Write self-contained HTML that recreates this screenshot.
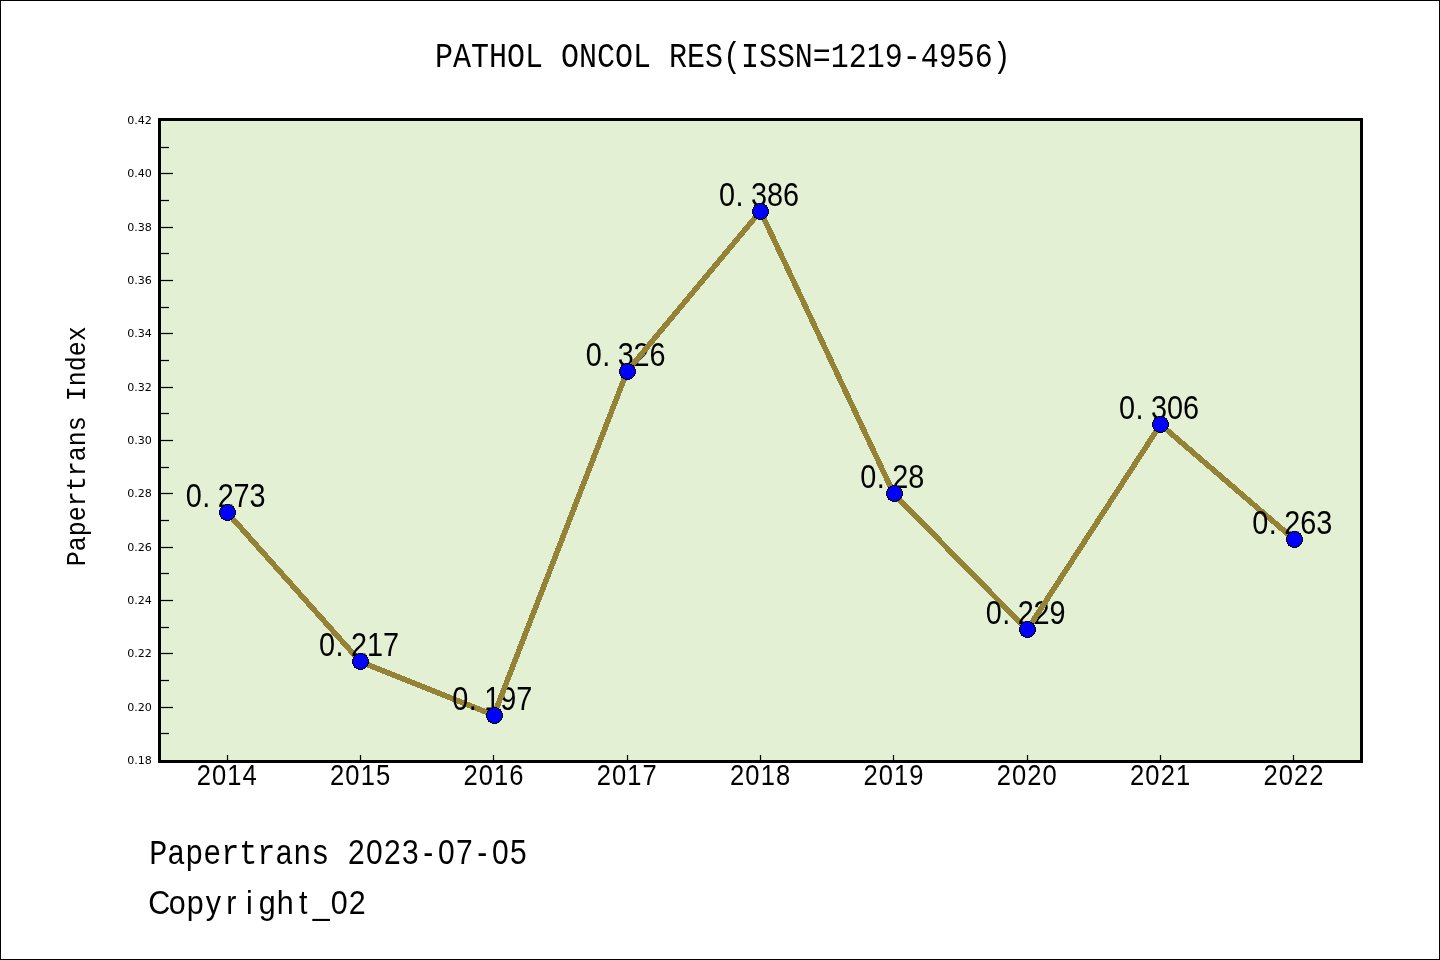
<!DOCTYPE html>
<html lang="en">
<head>
<meta charset="utf-8">
<title>PATHOL ONCOL RES (ISSN=1219-4956) - Papertrans Index</title>
<style>
html,body{margin:0;padding:0;background:#fff;width:1440px;height:960px;overflow:hidden}
svg{display:block;will-change:transform}
text{fill:#000;white-space:pre}
.m{font-family:"Liberation Mono","DejaVu Sans Mono",monospace}
.s{font-family:"Liberation Sans","DejaVu Sans",sans-serif}
.d{font-family:"DejaVu Sans","Liberation Sans",sans-serif}
</style>
</head>
<body>
<svg width="1440" height="960" viewBox="0 0 1440 960">
<rect x="0.5" y="0.5" width="1439" height="959" fill="#fff" stroke="#000" stroke-width="1"/>
<rect x="159.5" y="119.5" width="1202.0" height="642.0" fill="#e3f0d4"/>
<line x1="159.5" y1="707.5" x2="173" y2="707.5" stroke="#000" stroke-width="1.25"/>
<line x1="159.5" y1="653.5" x2="173" y2="653.5" stroke="#000" stroke-width="1.25"/>
<line x1="159.5" y1="600.5" x2="173" y2="600.5" stroke="#000" stroke-width="1.25"/>
<line x1="159.5" y1="547.5" x2="173" y2="547.5" stroke="#000" stroke-width="1.25"/>
<line x1="159.5" y1="493.5" x2="173" y2="493.5" stroke="#000" stroke-width="1.25"/>
<line x1="159.5" y1="440.5" x2="173" y2="440.5" stroke="#000" stroke-width="1.25"/>
<line x1="159.5" y1="387.5" x2="173" y2="387.5" stroke="#000" stroke-width="1.25"/>
<line x1="159.5" y1="333.5" x2="173" y2="333.5" stroke="#000" stroke-width="1.25"/>
<line x1="159.5" y1="280.5" x2="173" y2="280.5" stroke="#000" stroke-width="1.25"/>
<line x1="159.5" y1="227.5" x2="173" y2="227.5" stroke="#000" stroke-width="1.25"/>
<line x1="159.5" y1="173.5" x2="173" y2="173.5" stroke="#000" stroke-width="1.25"/>
<line x1="159.5" y1="733.5" x2="169" y2="733.5" stroke="#000" stroke-width="1.25"/>
<line x1="159.5" y1="680.5" x2="169" y2="680.5" stroke="#000" stroke-width="1.25"/>
<line x1="159.5" y1="627.5" x2="169" y2="627.5" stroke="#000" stroke-width="1.25"/>
<line x1="159.5" y1="573.5" x2="169" y2="573.5" stroke="#000" stroke-width="1.25"/>
<line x1="159.5" y1="520.5" x2="169" y2="520.5" stroke="#000" stroke-width="1.25"/>
<line x1="159.5" y1="467.5" x2="169" y2="467.5" stroke="#000" stroke-width="1.25"/>
<line x1="159.5" y1="413.5" x2="169" y2="413.5" stroke="#000" stroke-width="1.25"/>
<line x1="159.5" y1="360.5" x2="169" y2="360.5" stroke="#000" stroke-width="1.25"/>
<line x1="159.5" y1="307.5" x2="169" y2="307.5" stroke="#000" stroke-width="1.25"/>
<line x1="159.5" y1="253.5" x2="169" y2="253.5" stroke="#000" stroke-width="1.25"/>
<line x1="159.5" y1="200.5" x2="169" y2="200.5" stroke="#000" stroke-width="1.25"/>
<line x1="159.5" y1="147.5" x2="169" y2="147.5" stroke="#000" stroke-width="1.25"/>
<line x1="227.5" y1="761.5" x2="227.5" y2="755" stroke="#000" stroke-width="1.25"/>
<line x1="360.5" y1="761.5" x2="360.5" y2="755" stroke="#000" stroke-width="1.25"/>
<line x1="493.5" y1="761.5" x2="493.5" y2="755" stroke="#000" stroke-width="1.25"/>
<line x1="627.5" y1="761.5" x2="627.5" y2="755" stroke="#000" stroke-width="1.25"/>
<line x1="760.5" y1="761.5" x2="760.5" y2="755" stroke="#000" stroke-width="1.25"/>
<line x1="893.5" y1="761.5" x2="893.5" y2="755" stroke="#000" stroke-width="1.25"/>
<line x1="1027.5" y1="761.5" x2="1027.5" y2="755" stroke="#000" stroke-width="1.25"/>
<line x1="1160.5" y1="761.5" x2="1160.5" y2="755" stroke="#000" stroke-width="1.25"/>
<line x1="1293.5" y1="761.5" x2="1293.5" y2="755" stroke="#000" stroke-width="1.25"/>
<text class="s" transform="translate(225.67,506.90) scale(0.8560,1)" font-size="33.70" text-anchor="middle" x="-37.31 -22.76 0.00 18.66 37.31">0.273</text>
<line x1="227.17" y1="512.50" x2="360.50" y2="661.83" stroke="#948336" stroke-width="5.56" shape-rendering="crispEdges"/>
<text class="s" transform="translate(359.00,656.23) scale(0.8560,1)" font-size="33.70" text-anchor="middle" x="-37.31 -22.76 0.00 18.66 37.31">0.217</text>
<line x1="360.50" y1="661.83" x2="493.83" y2="715.17" stroke="#948336" stroke-width="5.56" shape-rendering="crispEdges"/>
<text class="s" transform="translate(492.33,709.57) scale(0.8560,1)" font-size="33.70" text-anchor="middle" x="-37.31 -22.76 0.00 18.66 37.31">0.197</text>
<line x1="493.83" y1="715.17" x2="627.17" y2="371.17" stroke="#948336" stroke-width="5.56" shape-rendering="crispEdges"/>
<text class="s" transform="translate(625.67,365.57) scale(0.8560,1)" font-size="33.70" text-anchor="middle" x="-37.31 -22.76 0.00 18.66 37.31">0.326</text>
<line x1="627.17" y1="371.17" x2="760.50" y2="211.17" stroke="#948336" stroke-width="5.56" shape-rendering="crispEdges"/>
<text class="s" transform="translate(759.00,205.57) scale(0.8560,1)" font-size="33.70" text-anchor="middle" x="-37.31 -22.76 0.00 18.66 37.31">0.386</text>
<line x1="760.50" y1="211.17" x2="893.83" y2="493.83" stroke="#948336" stroke-width="5.56" shape-rendering="crispEdges"/>
<text class="s" transform="translate(892.33,488.23) scale(0.8560,1)" font-size="33.70" text-anchor="middle" x="-27.98 -13.43 9.33 27.98">0.28</text>
<line x1="893.83" y1="493.83" x2="1027.17" y2="629.83" stroke="#948336" stroke-width="5.56" shape-rendering="crispEdges"/>
<text class="s" transform="translate(1025.67,624.23) scale(0.8560,1)" font-size="33.70" text-anchor="middle" x="-37.31 -22.76 0.00 18.66 37.31">0.229</text>
<line x1="1027.17" y1="629.83" x2="1160.50" y2="424.50" stroke="#948336" stroke-width="5.56" shape-rendering="crispEdges"/>
<text class="s" transform="translate(1159.00,418.90) scale(0.8560,1)" font-size="33.70" text-anchor="middle" x="-37.31 -22.76 0.00 18.66 37.31">0.306</text>
<line x1="1160.50" y1="424.50" x2="1293.83" y2="539.17" stroke="#948336" stroke-width="5.56" shape-rendering="crispEdges"/>
<text class="s" transform="translate(1292.33,533.57) scale(0.8560,1)" font-size="33.70" text-anchor="middle" x="-37.31 -22.76 0.00 18.66 37.31">0.263</text>
<circle cx="227.50" cy="512.50" r="8.0" fill="#0000ff" stroke="#000" stroke-width="1" shape-rendering="crispEdges"/>
<circle cx="360.50" cy="661.50" r="8.0" fill="#0000ff" stroke="#000" stroke-width="1" shape-rendering="crispEdges"/>
<circle cx="494.50" cy="715.50" r="8.0" fill="#0000ff" stroke="#000" stroke-width="1" shape-rendering="crispEdges"/>
<circle cx="627.50" cy="371.50" r="8.0" fill="#0000ff" stroke="#000" stroke-width="1" shape-rendering="crispEdges"/>
<circle cx="760.50" cy="211.50" r="8.0" fill="#0000ff" stroke="#000" stroke-width="1" shape-rendering="crispEdges"/>
<circle cx="894.50" cy="493.50" r="8.0" fill="#0000ff" stroke="#000" stroke-width="1" shape-rendering="crispEdges"/>
<circle cx="1027.50" cy="629.50" r="8.0" fill="#0000ff" stroke="#000" stroke-width="1" shape-rendering="crispEdges"/>
<circle cx="1160.50" cy="424.50" r="8.0" fill="#0000ff" stroke="#000" stroke-width="1" shape-rendering="crispEdges"/>
<circle cx="1294.50" cy="539.50" r="8.0" fill="#0000ff" stroke="#000" stroke-width="1" shape-rendering="crispEdges"/>
<rect x="159.5" y="119.5" width="1202.0" height="642.0" fill="none" stroke="#000" stroke-width="3"/>
<text class="d" x="151.9" y="764.25" font-size="11.1" text-anchor="end">0.18</text>
<text class="d" x="151.9" y="711.25" font-size="11.1" text-anchor="end">0.20</text>
<text class="d" x="151.9" y="657.25" font-size="11.1" text-anchor="end">0.22</text>
<text class="d" x="151.9" y="604.25" font-size="11.1" text-anchor="end">0.24</text>
<text class="d" x="151.9" y="551.25" font-size="11.1" text-anchor="end">0.26</text>
<text class="d" x="151.9" y="497.25" font-size="11.1" text-anchor="end">0.28</text>
<text class="d" x="151.9" y="444.25" font-size="11.1" text-anchor="end">0.30</text>
<text class="d" x="151.9" y="391.25" font-size="11.1" text-anchor="end">0.32</text>
<text class="d" x="151.9" y="337.25" font-size="11.1" text-anchor="end">0.34</text>
<text class="d" x="151.9" y="284.25" font-size="11.1" text-anchor="end">0.36</text>
<text class="d" x="151.9" y="231.25" font-size="11.1" text-anchor="end">0.38</text>
<text class="d" x="151.9" y="177.25" font-size="11.1" text-anchor="end">0.40</text>
<text class="d" x="151.9" y="124.25" font-size="11.1" text-anchor="end">0.42</text>
<text class="s" transform="translate(226.77,785.30) scale(0.8400,1)" font-size="30.41" text-anchor="middle" x="-27.29 -9.10 9.10 27.29">2014</text>
<text class="s" transform="translate(360.10,785.30) scale(0.8400,1)" font-size="30.41" text-anchor="middle" x="-27.29 -9.10 9.10 27.29">2015</text>
<text class="s" transform="translate(493.43,785.30) scale(0.8400,1)" font-size="30.41" text-anchor="middle" x="-27.29 -9.10 9.10 27.29">2016</text>
<text class="s" transform="translate(626.77,785.30) scale(0.8400,1)" font-size="30.41" text-anchor="middle" x="-27.29 -9.10 9.10 27.29">2017</text>
<text class="s" transform="translate(760.10,785.30) scale(0.8400,1)" font-size="30.41" text-anchor="middle" x="-27.29 -9.10 9.10 27.29">2018</text>
<text class="s" transform="translate(893.43,785.30) scale(0.8400,1)" font-size="30.41" text-anchor="middle" x="-27.29 -9.10 9.10 27.29">2019</text>
<text class="s" transform="translate(1026.77,785.30) scale(0.8400,1)" font-size="30.41" text-anchor="middle" x="-27.29 -9.10 9.10 27.29">2020</text>
<text class="s" transform="translate(1160.10,785.30) scale(0.8400,1)" font-size="30.41" text-anchor="middle" x="-27.29 -9.10 9.10 27.29">2021</text>
<text class="s" transform="translate(1293.43,785.30) scale(0.8400,1)" font-size="30.41" text-anchor="middle" x="-27.29 -9.10 9.10 27.29">2022</text>
<text class="m" transform="translate(722.90,67.25) scale(0.8459,1)" font-size="35.46" text-anchor="middle">PATHOL ONCOL RES(ISSN=1219-4956)</text>
<text class="m" transform="translate(84.70,446.30) rotate(-90) scale(0.8770,1)" font-size="28.50" text-anchor="middle">Papertrans Index</text>
<text class="m" transform="translate(149.30,864.40) scale(0.8770,1)" font-size="34.20" text-anchor="start">Papertrans</text>
<text class="s" transform="translate(347.30,864.40) scale(0.8500,1)" font-size="35.28" text-anchor="middle" x="10.59 31.76 52.94 74.12 95.29 116.47 137.65 158.82 180.00 201.18">2023-07-05</text>
<text class="s" transform="translate(150.30,914.40) scale(0.9000,1)" font-size="33.84" text-anchor="middle" x="10.00 30.00 50.00 70.00 90.00 110.00 130.00 150.00 170.00 190.00 210.00 230.00">Copyright_02</text>
</svg>
</body>
</html>
